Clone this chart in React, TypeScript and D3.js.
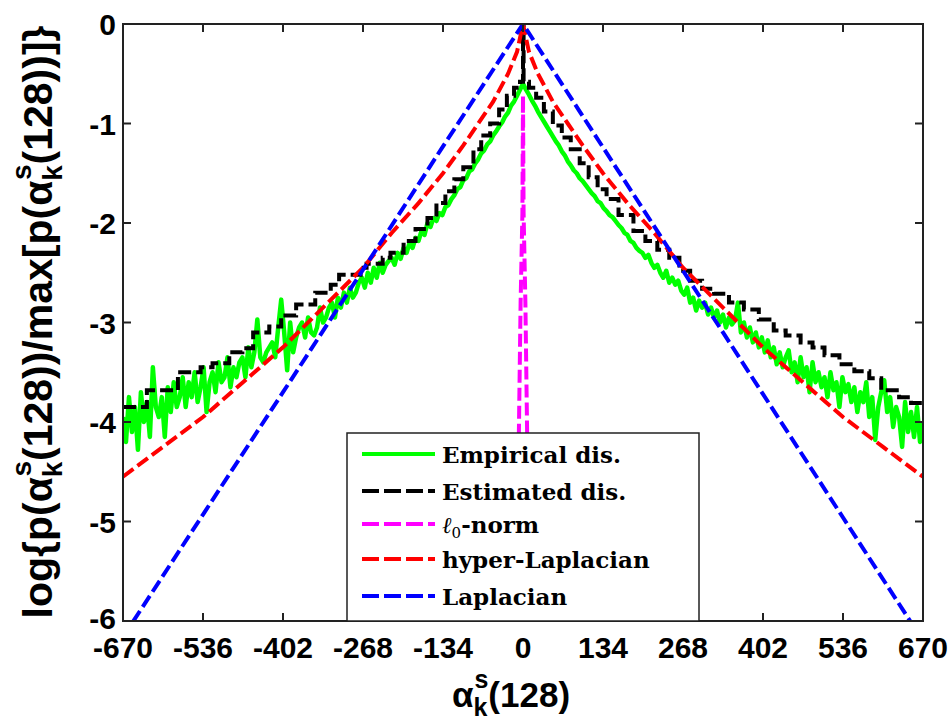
import React from "react";
import * as d3 from "d3";

const W = 949;
const H = 727;

const xTicks = [-670, -536, -402, -268, -134, 0, 134, 268, 402, 536, 670];
const yTicks = [0, -1, -2, -3, -4, -5, -6];

// Empirical distribution, bins every 5 units from -670 to 670
const empiricalStep = 5;
const empiricalLeft = [
  -3.95, -4.2, -3.75, -4.1, -3.85, -4.28, -3.7, -4.0, -3.8, -4.15,
  -3.45, -3.85, -3.95, -3.75, -4.15, -3.65, -3.9, -3.6, -3.85, -3.75,
  -3.55, -3.85, -3.6, -3.75, -3.5, -3.8, -3.65, -3.45, -3.9, -3.6,
  -3.5, -3.7, -3.4, -3.6, -3.55, -3.35, -3.65, -3.45, -3.55, -3.4,
  -3.35, -3.55, -3.25, -3.45, -3.3, -2.97, -3.35, -3.4, -3.3, -3.25,
  -3.2, -3.35, -3.05, -2.77, -3.1, -3.48, -3.0, -3.3, -3.15, -3.05,
  -3.0, -3.15, -2.95, -3.1, -3.13, -3.05, -2.85, -3.0, -2.95, -2.85,
  -2.8, -2.95, -2.75, -2.85, -2.7, -2.8, -2.65, -2.75, -2.7, -2.6,
  -2.55, -2.65, -2.5, -2.6, -2.45, -2.55, -2.4, -2.5, -2.42, -2.38,
  -2.35, -2.42, -2.3, -2.36, -2.25, -2.3, -2.2, -2.25, -2.15, -2.18,
  -2.08, -2.12, -2.0, -2.04, -1.95, -1.98, -1.9, -1.92, -1.84, -1.82,
  -1.76, -1.72, -1.66, -1.64, -1.57, -1.55, -1.48, -1.46, -1.4, -1.36,
  -1.3, -1.27, -1.21, -1.18, -1.12, -1.08, -1.03, -0.99, -0.93, -0.89,
  -0.82, -0.78, -0.72, -0.66, -0.6,
];
const empiricalRight = [
  -0.66, -0.71, -0.77, -0.82, -0.88, -0.93, -0.98, -1.03, -1.08, -1.13,
  -1.18, -1.22, -1.28, -1.32, -1.38, -1.42, -1.47, -1.5, -1.55, -1.58,
  -1.62, -1.66, -1.7, -1.73, -1.78, -1.8, -1.85, -1.88, -1.92, -1.94,
  -1.98, -2.02, -2.05, -2.1, -2.12, -2.18, -2.2, -2.25, -2.28, -2.3,
  -2.35, -2.32, -2.4, -2.45, -2.42, -2.5, -2.55, -2.48, -2.6, -2.55,
  -2.62, -2.58, -2.68, -2.72, -2.65, -2.8, -2.75, -2.88, -2.78, -2.85,
  -2.8, -2.92, -2.85, -2.95, -2.88, -3.0, -2.92, -3.05, -2.95, -3.02,
  -2.98, -2.8, -3.1, -3.0, -3.15, -3.05, -3.2, -3.1, -3.25, -3.15,
  -3.3, -3.18, -3.35, -3.25, -3.42, -3.3, -3.45, -3.35, -3.28, -3.5,
  -3.4, -3.6, -3.35, -3.55, -3.45, -3.7, -3.4, -3.6, -3.5, -3.65,
  -3.55, -3.75, -3.5, -3.68, -3.6, -3.85, -3.55, -3.7, -3.62, -3.8,
  -3.65, -3.9, -3.7, -3.8, -3.6, -3.95, -3.75, -4.18, -3.85, -3.7,
  -3.58, -3.9, -3.75, -4.05, -3.85, -3.95, -4.25, -3.8, -4.1, -3.9,
  -4.15, -3.85, -4.2, -4.0,
];

// Estimated distribution (staircase breakpoints)
const estimatedX = [
  -670, -630, -578, -540, -520, -492, -470, -452, -425, -405, -380, -348, -322, -308,
  -272, -262, -235, -222, -200, -180, -160, -145, -130, -115, -100, -83, -70, -55, -40,
  -27, -15, -5, 0, 1, 10, 22, 35, 50, 65, 80, 95, 110, 125, 140, 160, 185, 205, 225,
  245, 262, 280, 300, 320, 345, 370, 395, 420, 440, 465, 485, 505, 530, 555, 580, 600,
  630, 650, 670,
];
const estimatedY = [
  -3.85, -3.68, -3.5, -3.45, -3.41, -3.3, -3.26, -3.1, -3.04, -2.93, -2.82, -2.7, -2.62, -2.52,
  -2.45, -2.41, -2.35, -2.3, -2.18, -2.06, -1.95, -1.8, -1.68, -1.56, -1.44, -1.26, -1.12, -1.0, -0.86,
  -0.72, -0.64, -0.58, 0, -0.58, -0.64, -0.74, -0.88, -1.02, -1.14, -1.26, -1.4, -1.54, -1.66, -1.76, -1.92, -2.08, -2.18, -2.27,
  -2.35, -2.48, -2.58, -2.66, -2.71, -2.8, -2.87, -2.97, -3.08, -3.13, -3.2, -3.25, -3.33, -3.42, -3.49, -3.56, -3.68,
  -3.75, -3.81, -3.81,
];

// l0-norm
const l0X = [-10, -8, -6, -4, -2, -1, 0, 1, 2, 4, 6, 8, 10];
const l0Y = [-6.5, -4.6, -3.7, -2.8, -2.2, -1.9, -0.72, -1.9, -2.2, -2.8, -3.7, -4.6, -6.5];

// hyper-Laplacian
const hyperX = [-670, -603, -536, -469, -402, -335, -268, -220, -175, -134, -100, -75, -50, -25, -10, 0,
  10, 25, 50, 75, 100, 134, 175, 220, 268, 335, 402, 469, 536, 603, 670];
const hyperY = [-4.55, -4.25, -3.95, -3.6, -3.25, -2.85, -2.45, -2.1, -1.8, -1.5, -1.22, -1.0, -0.78, -0.5, -0.28, 0,
  -0.28, -0.5, -0.78, -1.0, -1.22, -1.5, -1.8, -2.1, -2.45, -2.85, -3.25, -3.6, -3.95, -4.25, -4.55];

// Laplacian
const lapX = [-670, -536, -402, -268, -134, 0, 134, 268, 402, 536, 670];
const lapY = [-6.16, -4.93, -3.7, -2.47, -1.23, 0, -1.24, -2.48, -3.72, -4.96, -6.2];

const legendItems = [
  { key: "emp", color: "#00ff00", dash: null },
  { key: "est", color: "#000000", dash: "17 5" },
  { key: "l0", color: "#ff00ff", dash: "17 5" },
  { key: "hyper", color: "#ff0000", dash: "17 5" },
  { key: "lap", color: "#0000ff", dash: "17 5" },
];

export default function App() {
  const left = 123, right = 923, top = 24, bottom = 621;
  const x = d3.scaleLinear().domain([-670, 670]).range([left, right]);
  const y = d3.scaleLinear().domain([-6, 0]).range([bottom, top]);

  const empirical: [number, number][] = [
    ...empiricalLeft.map((v, i) => [-670 + i * empiricalStep, v] as [number, number]),
    ...empiricalRight.map((v, i) => [empiricalStep * (i + 1), v] as [number, number]),
  ];
  const line = d3.line<[number, number]>().x((d) => x(d[0])).y((d) => y(d[1]));
  const stepLine = d3
    .line<[number, number]>()
    .x((d) => x(d[0]))
    .y((d) => y(d[1]))
    .curve(d3.curveStepAfter);

  const zip = (a: number[], b: number[]) => a.map((v, i) => [v, b[i]] as [number, number]);

  const tickFont = "'Liberation Sans', Arial, sans-serif";
  const serif = "'DejaVu Serif', serif";

  const legendRowsY = [454, 491, 524, 559, 596];
  const lx0 = 362, lx1 = 435, tx = 442;

  return (
    <svg width={W} height={H} style={{ position: "absolute", left: 0, top: 0, background: "#fff" }}>
      <defs>
        <clipPath id="plotclip">
          <rect x={left} y={top} width={right - left} height={bottom - top} />
        </clipPath>
      </defs>
      <rect x={0} y={0} width={W} height={H} fill="#fff" />
      <g clipPath="url(#plotclip)" fill="none" strokeWidth={4}>
        <path d={line(empirical) || ""} stroke="#00ff00" strokeWidth={4.5} strokeLinejoin="round" />
        <path d={stepLine(zip(estimatedX, estimatedY)) || ""} stroke="#000" strokeDasharray="13 5" />
        <path d={line(zip(l0X, l0Y)) || ""} stroke="#ff00ff" strokeDasharray="13 5" />
        <path d={line(zip(hyperX, hyperY)) || ""} stroke="#ff0000" strokeDasharray="13 5" />
        <path d={line(zip(lapX, lapY)) || ""} stroke="#0000ff" strokeDasharray="13 5" />
      </g>

      {/* axes box */}
      <rect x={left} y={top} width={right - left} height={bottom - top} fill="none" stroke="#222" strokeWidth={2} />
      {xTicks.map((t) => (
        <g key={"xt" + t}>
          <line x1={x(t)} x2={x(t)} y1={bottom} y2={bottom - 8} stroke="#222" strokeWidth={2} />
          <line x1={x(t)} x2={x(t)} y1={top} y2={top + 8} stroke="#222" strokeWidth={2} />
          <text x={x(t)} y={658} textAnchor="middle" fontFamily={tickFont} fontWeight="bold" fontSize={30} fill="#000">
            {t}
          </text>
        </g>
      ))}
      {yTicks.map((t) => (
        <g key={"yt" + t}>
          <line x1={left} x2={left + 8} y1={y(t)} y2={y(t)} stroke="#222" strokeWidth={2} />
          <line x1={right} x2={right - 8} y1={y(t)} y2={y(t)} stroke="#222" strokeWidth={2} />
          <text x={116} y={y(t) + (t === -6 ? 8 : 11)} textAnchor="end" fontFamily={tickFont} fontWeight="bold" fontSize={30} fill="#000">
            {t}
          </text>
        </g>
      ))}

      {/* legend */}
      <rect x={347} y={433} width={352} height={188} fill="#fff" stroke="#222" strokeWidth={1.5} />
      {legendItems.map((it, i) => (
        <line key={it.key} x1={lx0} x2={lx1} y1={legendRowsY[i]} y2={legendRowsY[i]} stroke={it.color} strokeWidth={4}
          strokeDasharray={it.dash || undefined} />
      ))}
      <g fontFamily={serif} fontWeight="bold" fontSize={23} fill="#000">
        <text x={tx} y={legendRowsY[0] + 9}>Empirical dis.</text>
        <text x={tx} y={legendRowsY[1] + 9}>Estimated dis.</text>
        <text x={tx} y={legendRowsY[2] + 9}>
          <tspan fontStyle="italic" fontWeight="normal">ℓ</tspan>
          <tspan fontSize={15} fontWeight="normal" dy={5}>0</tspan>
          <tspan dy={-5}>-norm</tspan>
        </text>
        <text x={tx} y={legendRowsY[3] + 9}>hyper-Laplacian</text>
        <text x={tx} y={legendRowsY[4] + 9}>Laplacian</text>
      </g>

      {/* x label */}
      <text x={452} y={707} fontFamily={tickFont} fontWeight="bold" fontSize={35} fill="#000">
        <tspan>α</tspan>
        <tspan fontSize={25} dy={9}>k</tspan>
        <tspan fontSize={25} dx={-13} dy={-28}>s</tspan>
        <tspan dy={19}>(128)</tspan>
      </text>

      {/* y label */}
      <text transform="translate(52,322) rotate(-90)" textAnchor="middle" fontFamily={tickFont} fontWeight="bold" fontSize={41} fill="#000">
        <tspan>log{"{"}p(α</tspan>
        <tspan fontSize={28} dy={10}>k</tspan>
        <tspan fontSize={28} dx={-15} dy={-31}>s</tspan>
        <tspan dy={21}>(128))/max[p(α</tspan>
        <tspan fontSize={28} dy={10}>k</tspan>
        <tspan fontSize={28} dx={-15} dy={-31}>s</tspan>
        <tspan dy={21}>(128))]{"}"}</tspan>
      </text>
    </svg>
  );
}
